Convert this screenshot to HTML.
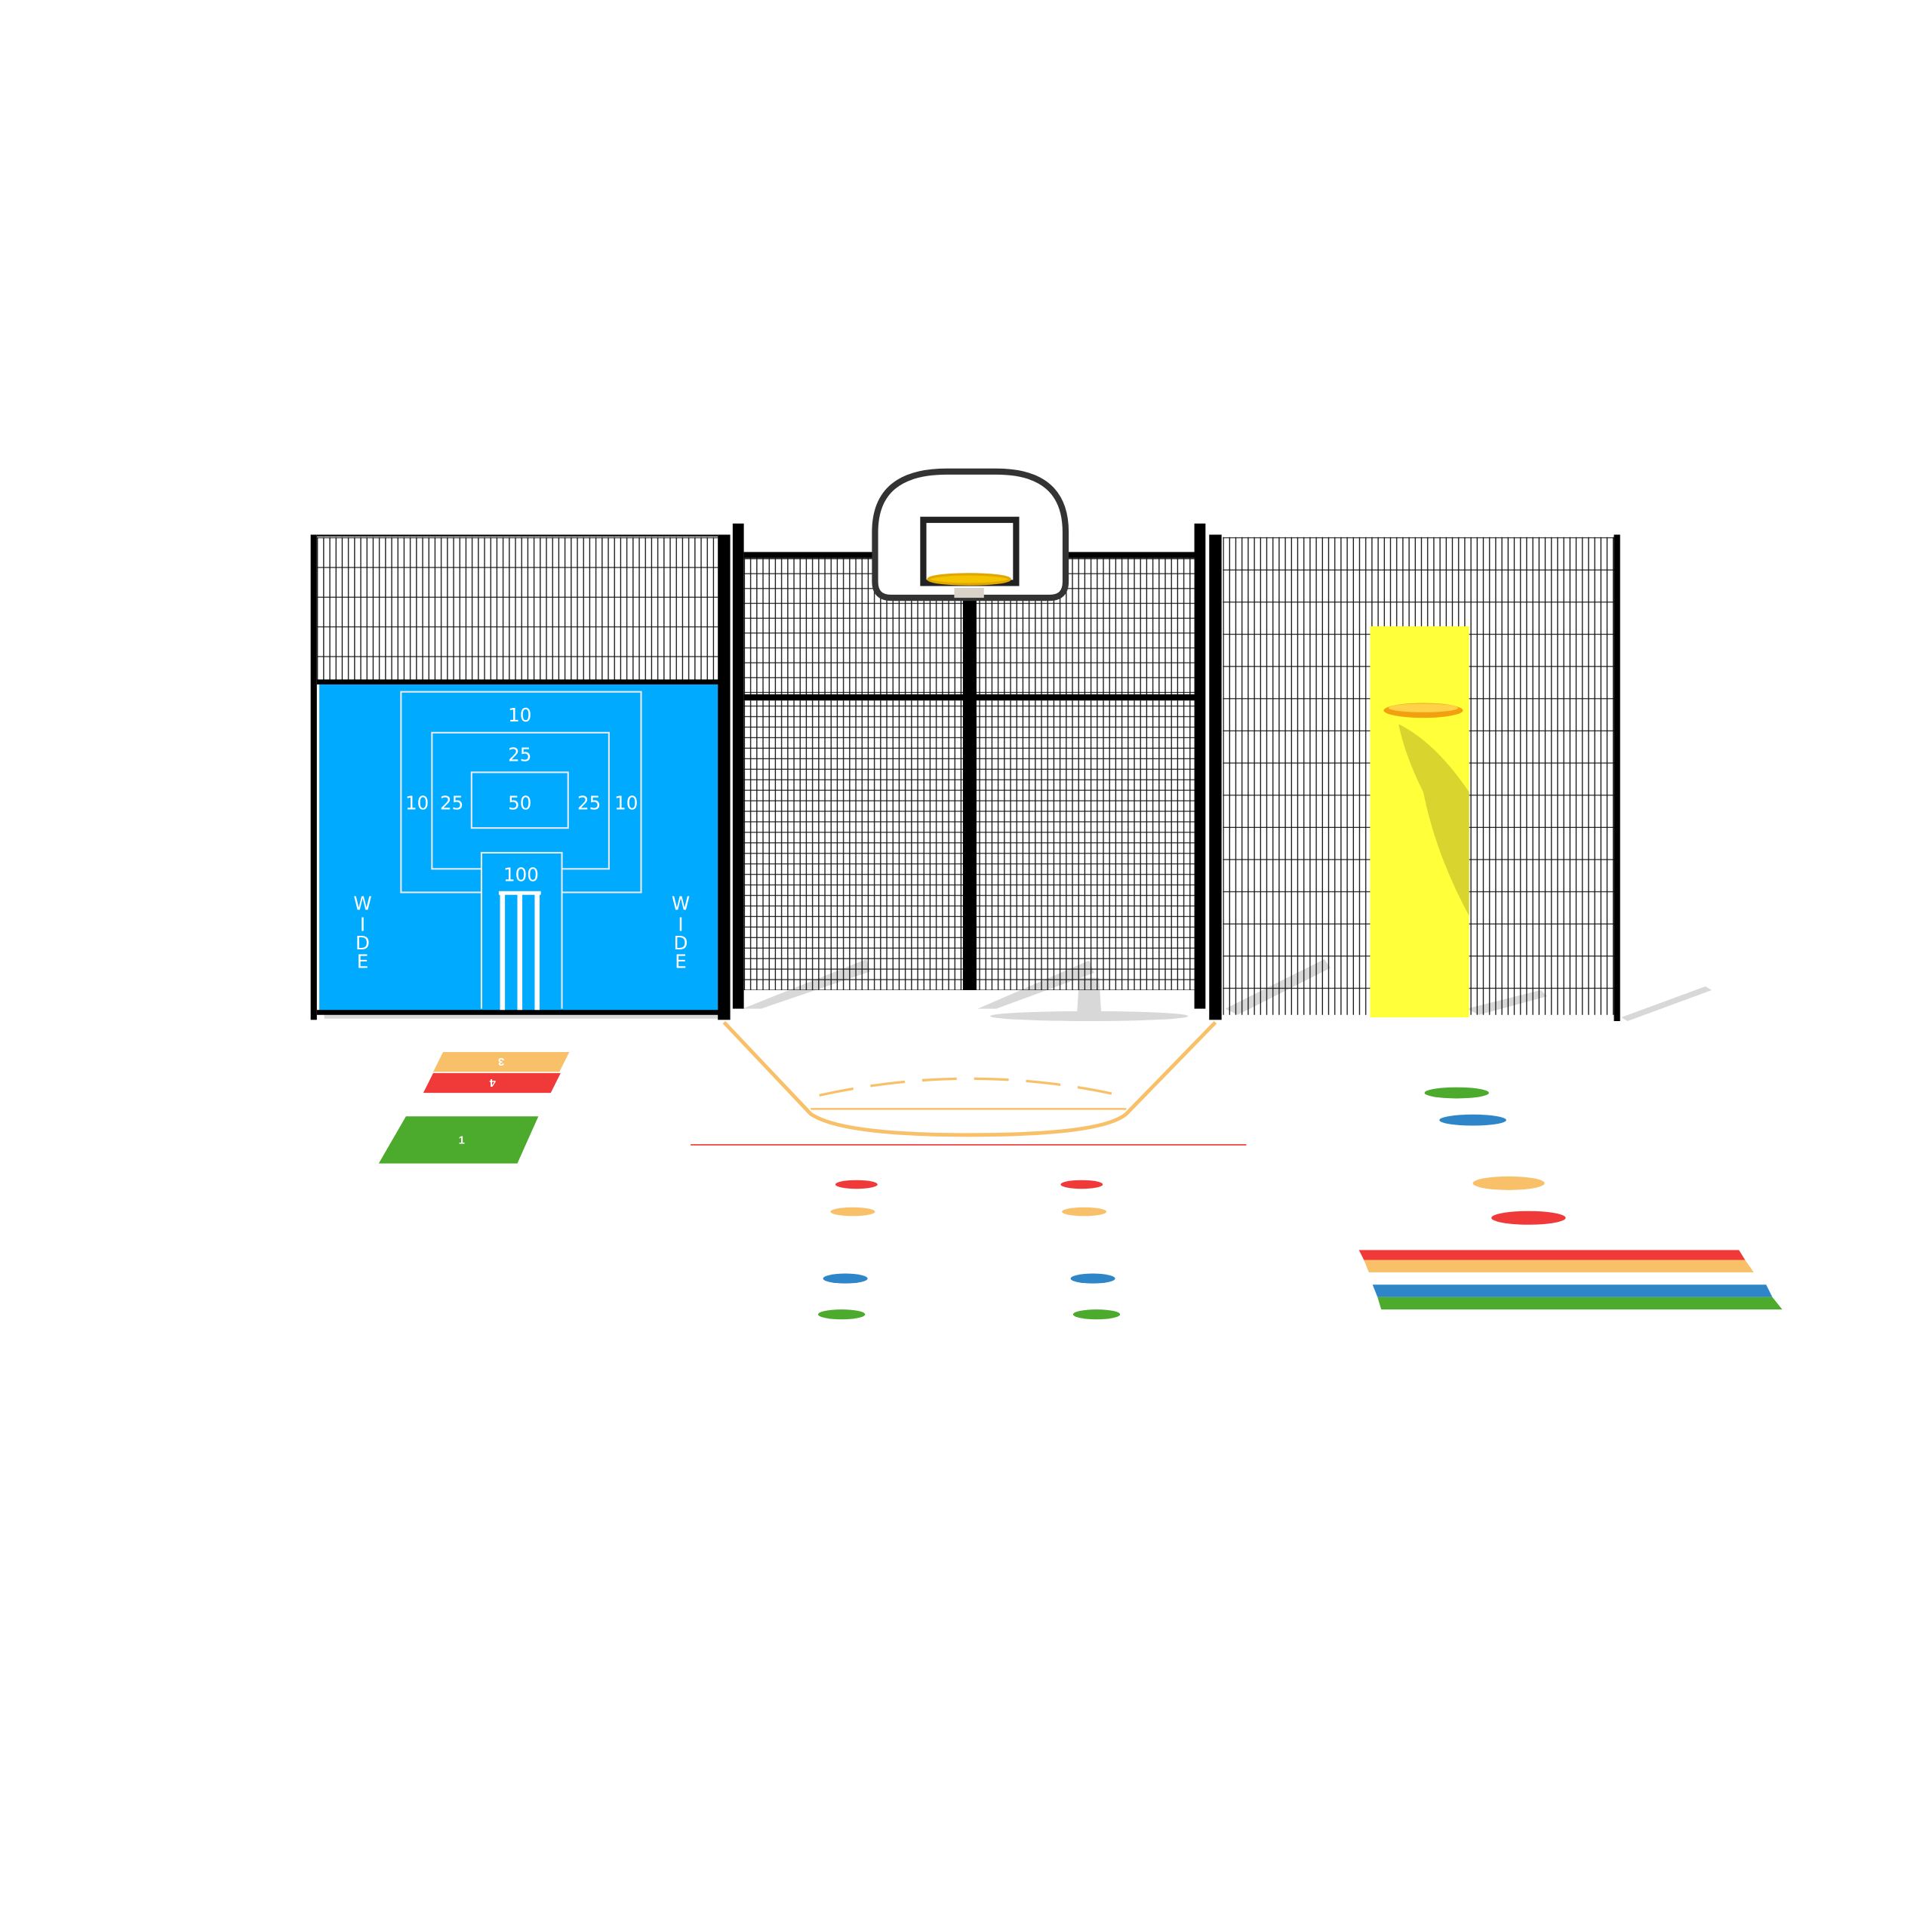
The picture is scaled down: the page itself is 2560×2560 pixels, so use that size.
<!DOCTYPE html>
<html><head><meta charset="utf-8"><style>html,body{margin:0;padding:0;background:#fff}svg{display:block}</style></head>
<body>
<svg width="2560" height="2560" viewBox="0 0 1561 1561" xmlns="http://www.w3.org/2000/svg" font-family="Liberation Sans, sans-serif">
<defs>
<pattern id="mL" x="256" y="434" width="5" height="24" patternUnits="userSpaceOnUse">
<line x1="0.5" y1="0" x2="0.5" y2="24" stroke="#111" stroke-width="0.8"/>
<line x1="0" y1="0.5" x2="5" y2="0.5" stroke="#111" stroke-width="0.7"/>
</pattern>
<pattern id="mG" x="601" y="451" width="5" height="8.5" patternUnits="userSpaceOnUse">
<line x1="0.5" y1="0" x2="0.5" y2="8.5" stroke="#111" stroke-width="0.8"/>
<line x1="0" y1="0.5" x2="5" y2="0.5" stroke="#111" stroke-width="0.7"/>
</pattern>
<pattern id="mGt" x="601" y="451" width="5" height="12" patternUnits="userSpaceOnUse">
<line x1="0.5" y1="0" x2="0.5" y2="12" stroke="#111" stroke-width="0.8"/>
<line x1="0" y1="0.5" x2="5" y2="0.5" stroke="#111" stroke-width="0.7"/>
</pattern>
<pattern id="mR" x="988" y="434" width="5" height="26" patternUnits="userSpaceOnUse">
<line x1="0.5" y1="0" x2="0.5" y2="26" stroke="#111" stroke-width="0.8"/>
<line x1="0" y1="0.5" x2="5" y2="0.5" stroke="#111" stroke-width="0.7"/>
</pattern>
</defs>
<rect width="1561" height="1561" fill="#fff"/>

<g fill="#d8d8d8">
<polygon points="600,815 700,775 703,785 615,815"/>
<polygon points="790,815 880,776 884,786 805,815"/>
<ellipse cx="880" cy="821" rx="80" ry="4"/>
<polygon points="872,790 888,790 890,822 870,822"/>
<polygon points="990,815 1070,775 1075,782 1000,820"/>
<polygon points="1185,815 1245,800 1250,805 1195,820"/>
<polygon points="1310,822 1378,797 1383,800 1315,825"/>
<rect x="262" y="819" width="318" height="4"/>
</g>

<rect x="256" y="434" width="324" height="116" fill="url(#mL)"/>
<rect x="251" y="432" width="5" height="392" fill="#000"/>
<rect x="256" y="432" width="324" height="1.5" fill="#111"/>
<rect x="258" y="552" width="322" height="266" fill="#00AAFF"/>
<rect x="256" y="549" width="326" height="4" fill="#000"/>
<rect x="256" y="816" width="326" height="4" fill="#000"/>
<g fill="none" stroke="#e8e8e8" stroke-width="1.3">
<path d="M389,721 H324 V559 H518 V721 H454"/>
<path d="M389,702 H349 V592 H492 V702 H454"/>
<rect x="381" y="624" width="78" height="45"/>
<path d="M389,815 V689 H454 V815"/>
</g>
<g fill="#fff">
<rect x="404" y="721" width="4" height="95"/><rect x="418" y="721" width="4" height="95"/><rect x="432" y="721" width="4" height="95"/>
<rect x="403" y="720" width="34" height="3"/>
</g>
<g fill="#fff" font-size="15" text-anchor="middle" font-family="DejaVu Sans, sans-serif">
<text x="420" y="583">10</text>
<text x="420" y="615">25</text>
<text x="420" y="654">50</text>
<text x="337" y="654">10</text>
<text x="365" y="654">25</text>
<text x="476" y="654">25</text>
<text x="506" y="654">10</text>
<text x="421" y="712">100</text>
<text x="293" y="735">W</text><text x="293" y="752">I</text><text x="293" y="767">D</text><text x="293" y="782">E</text>
<text x="550" y="735">W</text><text x="550" y="752">I</text><text x="550" y="767">D</text><text x="550" y="782">E</text>
</g>

<rect x="601" y="451" width="366" height="110" fill="url(#mGt)"/>
<rect x="601" y="566" width="366" height="234" fill="url(#mG)"/>
<rect x="580" y="432" width="10" height="392" fill="#000"/>
<rect x="592" y="423" width="9" height="392" fill="#000"/>
<rect x="601" y="446" width="367" height="5" fill="#000"/>
<rect x="601" y="561" width="367" height="5" fill="#000"/>
<rect x="778" y="480" width="11" height="320" fill="#000"/>
<rect x="965" y="423" width="9" height="392" fill="#000"/>
<rect x="977" y="432" width="10" height="392" fill="#000"/>

<rect x="988" y="434" width="318" height="386" fill="url(#mR)"/>
<rect x="1304" y="432" width="5" height="393" fill="#000"/>

<path d="M707,470 V430 Q707,381 765,381 H805 Q861,381 861,430 V470 Q861,483 848,483 H720 Q707,483 707,470 Z" fill="#fff" stroke="#333" stroke-width="5"/>
<rect x="746" y="420" width="75" height="51" fill="none" stroke="#222" stroke-width="5"/>
<rect x="771" y="475" width="24" height="8" fill="#d9d2c8"/>
<ellipse cx="783" cy="468" rx="33" ry="4" fill="#f5c400" stroke="#e0a800" stroke-width="2"/>

<rect x="1107" y="506" width="80" height="316" fill="#FFFF3A"/>
<path d="M1130,585 Q1160,600 1187,640 V740 Q1160,690 1150,640 Q1135,610 1130,585 Z" fill="#c9c22a" opacity="0.7"/>
<ellipse cx="1150" cy="574" rx="32" ry="6" fill="#f3a010"/>
<ellipse cx="1150" cy="572" rx="28" ry="3.5" fill="#ffd24a"/>

<g fill="none" stroke="#F9C06A" stroke-width="3">
<path d="M585,826 L655,900 Q680,917 783,917 Q890,917 910,900 L982,826"/>
</g>
<line x1="655" y1="896" x2="910" y2="896" stroke="#F9C06A" stroke-width="1.5"/>
<path d="M662,885 Q783,858 905,885" fill="none" stroke="#F9C06A" stroke-width="2" stroke-dasharray="28,14"/>
<line x1="558" y1="925" x2="1007" y2="925" stroke="#e33" stroke-width="1"/>

<polygon points="358,850 460,850 452,866 350,866" fill="#F9C06A"/>
<polygon points="350,867 453,867 445,883 342,883" fill="#F03A3A"/>
<polygon points="328,902 435,902 418,940 306,940" fill="#4CAA2C"/>
<g fill="#fff" font-size="9" text-anchor="middle" font-weight="bold">
<text x="405" y="861" transform="rotate(180 405 858)">3</text>
<text x="398" y="878" transform="rotate(180 398 875)">4</text>
<text x="373" y="924">1</text>
</g>

<ellipse cx="692" cy="957" rx="17" ry="3.5" fill="#F03A3A"/>
<ellipse cx="874" cy="957" rx="17" ry="3.5" fill="#F03A3A"/>
<ellipse cx="689" cy="979" rx="18" ry="3.5" fill="#F9C06A"/>
<ellipse cx="876" cy="979" rx="18" ry="3.5" fill="#F9C06A"/>
<ellipse cx="683" cy="1033" rx="18" ry="4" fill="#2E86C8"/>
<ellipse cx="883" cy="1033" rx="18" ry="4" fill="#2E86C8"/>
<ellipse cx="680" cy="1062" rx="19" ry="4" fill="#4CAA2C"/>
<ellipse cx="886" cy="1062" rx="19" ry="4" fill="#4CAA2C"/>
<ellipse cx="1177" cy="883" rx="26" ry="4.5" fill="#4CAA2C"/>
<ellipse cx="1190" cy="905" rx="27" ry="4.5" fill="#2E86C8"/>
<ellipse cx="1219" cy="956" rx="29" ry="5.5" fill="#F9C06A"/>
<ellipse cx="1235" cy="984" rx="30" ry="5.5" fill="#F03A3A"/>

<polygon points="1098,1010 1405,1010 1410,1018 1102,1018" fill="#F03A3A"/>
<polygon points="1102,1018 1410,1018 1417,1028 1106,1028" fill="#F9C06A"/>
<polygon points="1109,1038 1427,1038 1432,1048 1113,1048" fill="#2E86C8"/>
<polygon points="1113,1048 1432,1048 1440,1058 1116,1058" fill="#4CAA2C"/>
</svg>
</body></html>
